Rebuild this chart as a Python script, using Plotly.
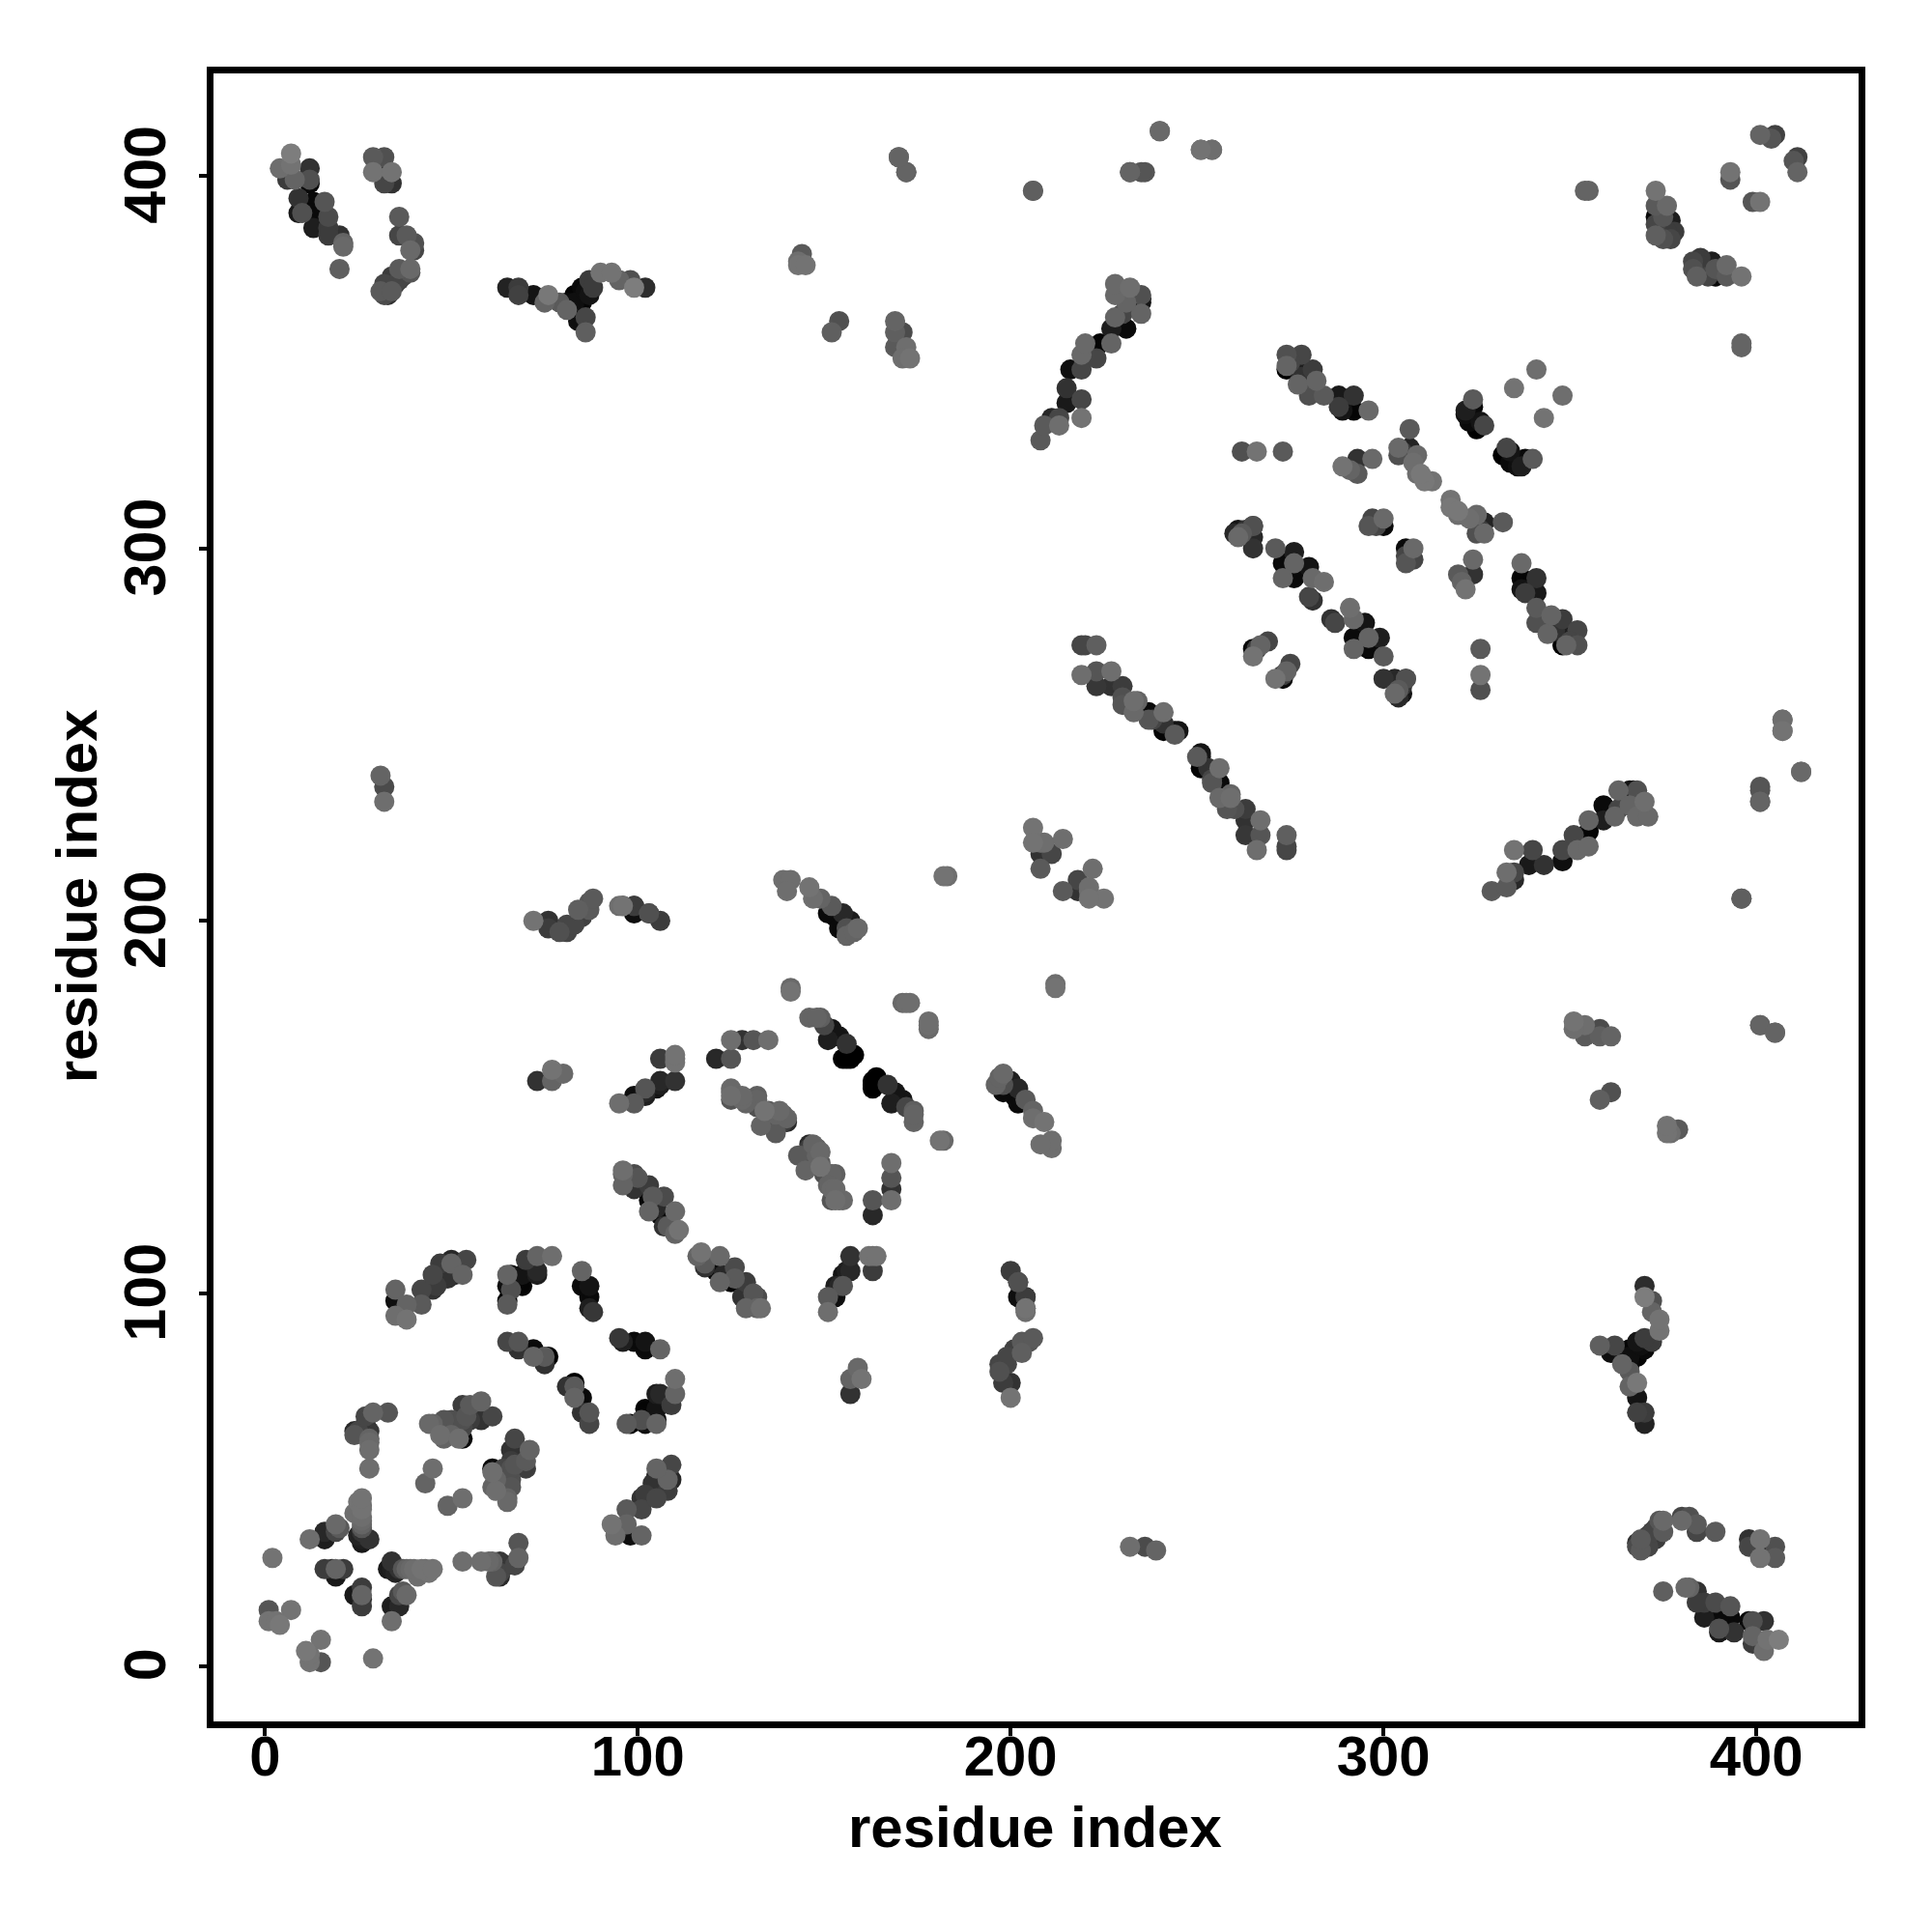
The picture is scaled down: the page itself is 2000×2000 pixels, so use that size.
import plotly.graph_objects as go

# contacts as (residue i, residue j, grey level 0-255); the map is symmetric
near_n = [(2,29,115),(1,15,85),(7,15,115),(1,12,115),(4,11,120),(3,12,115),(16,26,60),(19,26,100),(21,26,60),(19,24,25),(18,26,40),
(12,34,110),(16,34,30),(16,36,40),(19,36,70),(19,38,105),(20,37,90),(24,41,110),(25,44,115),(26,42,115),(26,38,100),(26,36,50),(26,34,30),(28,34,50),(26,33,25),(26,39,105),(26,40,110),(26,45,115),(25,35,35),(26,37,85),(26,43,110)]
n_loop = [(28,53,110),(28,58,110),(28,61,100),(24,62,85),(25,63,70),(28,63,55),(27,65,50),(27,67,70),(29,68,100),(33,68,85),(24,63,40),(28,60,105),
(43,49,100),(45,53,110),(45,65,100),(44,65,105),(47,62,110),(50,66,80),(50,62,100),(53,61,10),(53,64,70),(53,66,80),(53,70,60),(55,70,90),(58,71,100),(58,67,35),(61,67,70),(52,61,110),(48,61,100),(48,66,85),(58,66,50),(54,67,85),(55,66,60)]
sheet_a = [(65,87,70),(68,87,85),(68,85,50),(72,85,10),(72,83,100),(75,81,50),(76,83,0),(75,83,90),
(65,105,100),(66,105,10),(69,105,20),(73,106,40),(70,109,60),(73,110,100),(77,110,110),(65,102,15),(69,102,5),(66,101,80),(65,98,0),(65,97,90),(73,105,30),
(85,106,100),(85,102,10),(87,102,20),(87,99,10),(88,95,55),(87,96,30)]
sheet_b = [(35,101,100),(35,98,15),(35,94,110),(38,93,115),(38,97,100),(42,97,90),(42,101,70),(45,101,50),(45,105,70),(47,108,60),(50,109,40),(51,105,30),(50,108,100),(53,105,100),(54,109,70),(49,104,50),(46,102,60)]
sheet_c = [(96,132,100),(96,129,100),(96,133,110),(99,132,75),(99,128,50),(103,129,60),(103,125,5),(104,126,90),(107,126,75),(103,122,100),(107,118,50),(106,121,10),(110,122,105),(108,118,90),(111,117,115),(110,116,100),(100,131,85),(105,123,40)]
sheet_d = [(125,154,105),(125,152,85),(128,152,105),(132,152,100),(132,150,80),(134,149,115),(137,148,100),(140,147,100),(137,144,80),(133,145,100),(137,143,90),(140,146,40),(139,146,60),(129,151,100),(135,149,90),(138,149,105),(139,148,95)]
sheet_d2 = [(125,153,110),(125,155,105),(128,153,105),(132,151,70),(132,153,95)]
sheet_e = [(146,174,100),(148,174,100),(149,174,95),(150,172,70),(152,171,20),(151,168,30),(154,169,20),(156,167,50),(155,163,0),(158,164,0),(156,163,0),(157,163,0),(157,164,0)]
sheet_f = [(139,211,110),(141,211,110),(140,208,110),(146,209,115),(147,206,110),(149,206,100),(152,204,90),(151,202,10),(155,202,40),(157,200,30),(154,198,10),(156,196,100),(159,198,105),(158,197,100),(153,201,5),(156,198,80)]
mid_misc = [(182,212,115),(183,212,110),(141,182,105),(141,181,115),(172,178,110),(173,178,110),(171,178,105),
(206,225,115),(206,221,115),(208,221,110),(209,221,110),(214,222,110),(208,218,50),(211,218,70),(208,214,90),
(125,168,110),(128,168,50),(131,168,85),(135,168,110),(121,163,40),(125,163,85),
(73,157,50),(77,157,100),(77,160,115),(80,159,105),
(95,151,110),(99,151,90),(99,153,15),(102,153,30),(102,155,85),(105,155,20),(106,157,40),(110,157,50),(102,154,40),(106,163,60),(110,163,100),(110,162,115),(110,164,115),(106,156,30),
(31,239,100),(32,236,75),(32,232,110)]
helix_200 = [(106,200,60),(103,202,70),(99,202,15),(99,204,50),(95,204,110),(96,204,50),(103,202,80),(99,204,60),(96,204,115),
(72,200,115),(76,200,50),(76,198,60),(79,197,80),(81,197,70),(81,199,70),(83,199,70),(85,201,65),(84,203,95),(87,203,90),(87,205,85),(88,206,90)]
top_left = [(7,406,125),(4,402,110),(7,403,115),(12,402,50),(6,399,60),(8,399,100),(12,399,80),(12,398,10),(9,394,50),(13,393,10),(16,393,85),(9,390,25),(10,390,80),(13,390,10),(17,389,75),(13,386,30),(17,386,60),(17,384,60),(20,384,50),(21,382,100),(21,381,105),(20,375,95),
(29,405,90),(32,405,80),(29,401,115),(34,401,115),(32,398,70),(32,400,5),(34,398,50),
(36,389,90),(36,384,70),(38,384,90),(40,382,80),(39,380,105),(40,380,70),(39,375,105),(36,375,90),(39,374,85),(37,373,70),(34,373,60),(35,371,60),(32,371,70),(34,370,60),(31,369,90),(32,368,75),(33,368,50),(36,372,70),(34,369,90)]
top_mid = [(65,370,35),(68,370,60),(68,368,65),(72,368,20),(76,368,120),(75,366,100),(79,366,90),(81,364,100),(81,366,10),(83,366,15),(83,368,5),(85,370,10),(87,368,20),(87,372,60),(86,362,70),(84,361,15),(86,358,95),(90,374,115),(93,374,115),(95,372,100),(98,372,80),(99,370,125),(102,370,45),(85,366,5),(86,369,15),(88,370,60),
(143,377,110),(144,379,90),(143,376,115),(145,376,115),(154,361,80),(152,358,95),(169,361,100),(171,358,75),(169,358,95),(169,354,90),(172,354,110),(170,354,20),(171,351,110),(173,351,115),(170,405,100),(172,401,100),
(240,412,105),(251,407,115),(254,407,95),(232,401,95),(236,401,85),(206,396,95)]
band_330 = [(208,329,90),(209,333,90),(213,333,110),(213,335,70),(219,335,115),(219,340,70),(215,339,25),(215,343,50),(219,348,70),(216,348,15),(223,351,70),(219,352,105),(220,355,105),(224,355,5),(227,355,100),(231,359,10),(227,359,30),(235,363,100),(230,363,70),(228,362,100),(235,366,20),(235,368,80),(231,366,100),(232,370,110),(228,368,105),(228,371,105),(211,335,40),(235,367,5)]
band_long = [(219,274,70),(220,274,70),(223,274,95),(219,266,110),(223,267,85),(223,263,55),(227,267,110),(227,263,50),(230,263,60),(230,258,85),(233,259,110),(233,256,105),(237,256,10),(237,254,85),(241,256,110),(241,253,50),(241,251,5),(244,251,15),(244,250,90),(245,251,20),
(238,254,70),(234,259,100),(230,260,80)]
sheet_g = [(274,352,80),(278,352,70),(274,348,0),(277,348,30),(281,348,60),(277,344,100),(282,345,100),(280,341,80),(284,341,90),(288,341,25),(292,341,50),(289,337,20),(292,337,5),(296,337,105),(274,349,100),(275,350,70),(278,346,50),(281,342,70),(288,338,60)]
sheet_h = [(262,326,80),(266,326,115),(273,326,90),(289,322,115),(293,324,50),(293,320,90),(297,324,105),(291,321,100),
(307,332,90),(304,327,105),(304,325,80),(307,327,35),(309,325,105),(309,320,110),(311,318,120),(313,318,115),(305,326,60),(308,324,70),(308,323,110),(310,320,120),
(324,340,90),(322,337,30),(326,334,20),(323,334,10),(325,332,0),(327,333,70),(322,336,15),(324,338,10),(335,343,115),(341,348,110)]
sheet_i = [(262,304,90),(260,304,40),(265,306,70),(265,300,50),(261,303,105),(263,305,50),(265,303,40),(265,306,80),(261,305,20),
(271,300,90),(276,299,30),(273,296,10),(276,296,100),(280,295,20),(273,292,100),(276,292,10),(281,292,105),(284,291,110),(280,287,70),(281,286,50),
(300,308,105),(297,308,70),(296,306,85),(300,306,10),(298,306,70),
(269,275,70),(267,274,100),(265,273,10),(265,271,115),(266,273,60)]
top_right = [(373,396,115),(373,392,90),(376,392,105),(373,389,10),(377,388,30),(375,389,85),(378,385,60),(373,384,95),(375,383,80),(377,383,70),(374,386,50),(373,387,70),(376,385,60),
(393,401,115),(393,399,85),(401,411,100),(405,411,65),(404,410,85),(354,396,100),(355,396,100)]
right_far = [(235,401,85),(232,401,100),(254,407,110),(251,407,100),(240,412,100),(206,396,95),(172,401,100),(170,405,100)]

clusters = [near_n, n_loop, sheet_a, sheet_b, sheet_c, sheet_d, sheet_d2, sheet_e, sheet_f, mid_misc, helix_200,
            top_left, top_mid, band_330, band_long, sheet_g, sheet_h, sheet_i, top_right, right_far]
# darker contacts are drawn first, so the lighter ones sit on top of them
contacts = sorted((c for cluster in clusters for c in cluster), key=lambda c: c[2])

tick_vals = [0, 100, 200, 300, 400]
axis_title = "residue index"

xs = [c[0] for c in contacts] + [c[1] for c in contacts]
ys = [c[1] for c in contacts] + [c[0] for c in contacts]
greys = [f"rgb({c[2]},{c[2]},{c[2]})" for c in contacts] * 2

FONT = "Liberation Sans"
title_font = dict(family=FONT, size=60, color="black", weight=700)
fig = go.Figure(go.Scatter(x=xs, y=ys, mode="markers", cliponaxis=True,
                           marker=dict(size=21, color=greys, line=dict(width=0)), hoverinfo="skip"))

def axis(lo, hi, standoff, tick_size, **kw):
    return dict(range=[lo, hi], tickmode="array", tickvals=tick_vals, ticktext=[str(v) for v in tick_vals],
                showgrid=False, zeroline=False, showline=True, mirror=True, linecolor="black", linewidth=7,
                ticks="outside", ticklen=8, tickwidth=4, tickcolor="black", ticklabelstandoff=standoff,
                tickfont=dict(family=FONT, size=tick_size, color="black", weight=700), **kw)

fig.update_layout(width=2000, height=2000, paper_bgcolor="white", plot_bgcolor="white", showlegend=False,
                  margin=dict(l=213, r=83.5, t=67.5, b=226, autoexpand=False),
                  xaxis=axis(-13.8, 427.4, -29, 58),
                  yaxis=axis(-14.9, 427.5, 11, 61, tickangle=-90, ticklabelshift=8),
                  annotations=[
                      dict(text=axis_title, xref="paper", yref="paper", x=0.4992, y=-0.0642, showarrow=False,
                           xanchor="center", yanchor="middle", font=title_font),
                      dict(text=axis_title, xref="paper", yref="paper", x=-0.0834, y=0.501, showarrow=False,
                           xanchor="center", yanchor="middle", textangle=-90, font=title_font),
                  ])
fig.write_html("out.html")
